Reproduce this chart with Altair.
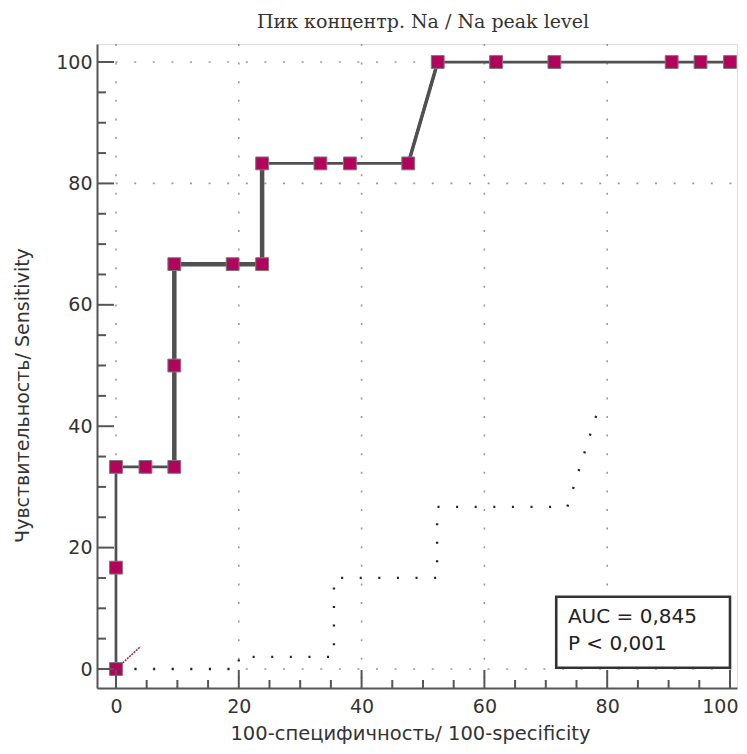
import altair as alt
import pandas as pd

# ---- data ----
fpr = [0, 0, 0, 4.8, 9.5, 9.5, 9.5, 19.0, 23.8, 23.8, 33.3, 38.1, 47.6, 52.4, 61.9, 71.4, 90.5, 95.2, 100]
sens = [0, 16.7, 33.3, 33.3, 33.3, 50.0, 66.7, 66.7, 66.7, 83.3, 83.3, 83.3, 83.3, 100, 100, 100, 100, 100, 100]

# heavier segments of the curve
thick_x = [9.5, 9.5, 23.8, 23.8]
thick_y = [33.3, 66.7, 66.7, 83.3]
diag_x = [47.6, 52.4]
diag_y = [83.3, 100]

# lower dotted confidence bound (partially drawn)
lo_x = [0, 20, 20, 35.5, 35.5, 52.3, 52.3, 73.5, 78.2]
lo_y = [0, 0, 2, 2, 15, 15, 26.7, 26.7, 41.7]

# short piece of the diagonal reference
ref_x = [0, 4]
ref_y = [0, 3.7]

grid_x = [0, 20, 40, 60, 80]
grid_y = [0, 80, 100]
major_ticks = [0, 20, 40, 60, 80, 100]
minor_ticks = [v for v in range(0, 101, 5) if v % 20 != 0]

auc_lines = ["AUC = 0,845", "P < 0,001"]
auc_x = [73.6, 73.6]
auc_y = [7.6, 3.1]
box = {"x": 71.7, "x2": 100, "y": 0.2, "y2": 11.9}

title = "Пик концентр. Na / Na peak level"
x_title = "100-специфичность/ 100-specificity"
y_title = "Чувствительность/ Sensitivity"

W, H = 640, 644
XS = alt.Scale(domain=[-3.09, 101.14], nice=False, zero=False)
YS = alt.Scale(domain=[-3.13, 102.97], nice=False, zero=False)
FONT = "DejaVu Sans"

X_AX = alt.Axis(values=major_ticks, format="d", grid=False, ticks=False, tickSize=0,
                labelFont=FONT, labelFontSize=19, labelColor="#333", labelPadding=9,
                labelFlush=10, labelFlushOffset=8,
                domainColor="#555", domainWidth=2,
                title=x_title, titleFont=FONT, titleFontSize=19.5, titleFontWeight="normal",
                titleColor="#333", titleX=313, titleY=45, titleAlign="center",
                titleBaseline="middle")
Y_AX = alt.Axis(values=major_ticks, format="d", grid=False, ticks=False, tickSize=0,
                labelFont=FONT, labelFontSize=19, labelColor="#333", labelPadding=5,
                domainColor="#555", domainWidth=2,
                title=y_title, titleFont=FONT, titleFontSize=19, titleFontWeight="normal",
                titleColor="#333", titleX=-75, titleY=351, titleAngle=270,
                titleAlign="center", titleBaseline="middle")


def X(f):
    return alt.X(f, type="quantitative", scale=XS, axis=X_AX)


def Y(f):
    return alt.Y(f, type="quantitative", scale=YS, axis=Y_AX)


roc = pd.DataFrame({"x": fpr, "y": sens, "i": range(len(fpr))})
thick = pd.DataFrame({"x": thick_x, "y": thick_y, "i": range(len(thick_x))})
diag = pd.DataFrame({"x": diag_x, "y": diag_y, "i": range(len(diag_x))})
lo = pd.DataFrame({"x": lo_x, "y": lo_y, "i": range(len(lo_x))})
ref = pd.DataFrame({"x": ref_x, "y": ref_y, "i": range(len(ref_x))})
gx = pd.DataFrame({"x": grid_x})
gy = pd.DataFrame({"y": grid_y})
tmaj = pd.DataFrame({"v": major_ticks})
tmin = pd.DataFrame({"v": minor_ticks})
auc = pd.DataFrame({"t": auc_lines, "x": auc_x, "y": auc_y})
boxdf = pd.DataFrame([box])

DOT = [2, 16.6]

grid_v = alt.Chart(gx).mark_rule(color="#999", strokeWidth=1.6, strokeDash=DOT).encode(
    x=X("x"), y=alt.value(0), y2=alt.value(H))
grid_h = alt.Chart(gy).mark_rule(color="#999", strokeWidth=1.6, strokeDash=DOT).encode(
    y=Y("y"), x=alt.value(0), x2=alt.value(W))

xt_maj = alt.Chart(tmaj).mark_rule(color="#555", strokeWidth=2).encode(
    x=X("v"), y=alt.value(H), y2=alt.value(H - 18))
xt_min = alt.Chart(tmin).mark_rule(color="#555", strokeWidth=2).encode(
    x=X("v"), y=alt.value(H), y2=alt.value(H - 8))
yt_maj = alt.Chart(tmaj).mark_rule(color="#555", strokeWidth=2).encode(
    y=Y("v"), x=alt.value(0), x2=alt.value(17))
yt_min = alt.Chart(tmin).mark_rule(color="#555", strokeWidth=2).encode(
    y=Y("v"), x=alt.value(0), x2=alt.value(9))

lower = alt.Chart(lo).mark_line(color="#222", strokeWidth=2.3, strokeDash=DOT).encode(
    x=X("x"), y=Y("y"), order="i:Q")
refl = alt.Chart(ref).mark_line(color="#8a3048", strokeWidth=1.6, strokeDash=[2, 1]).encode(
    x=X("x"), y=Y("y"), order="i:Q")

line = alt.Chart(roc).mark_line(color="#505050", strokeWidth=2.7).encode(
    x=X("x"), y=Y("y"), order="i:Q")
line_thick = alt.Chart(thick).mark_line(color="#505050", strokeWidth=4.5).encode(
    x=X("x"), y=Y("y"), order="i:Q")
line_diag = alt.Chart(diag).mark_line(color="#505050", strokeWidth=3.5).encode(
    x=X("x"), y=Y("y"), order="i:Q")
pts = alt.Chart(roc).mark_square(size=165, color="#b3045d", opacity=1,
                                 stroke="#7a7a7a", strokeWidth=1).encode(
    x=X("x"), y=Y("y"))

boxl = alt.Chart(boxdf).mark_rect(fill="white", stroke="#333", strokeWidth=2.6).encode(
    x=X("x"), x2="x2", y=Y("y"), y2="y2")
txt = alt.Chart(auc).mark_text(align="left", baseline="alphabetic", font=FONT,
                               fontSize=20, color="#222").encode(
    x=X("x"), y=Y("y"), text="t:N")

chart = alt.layer(
    grid_v, grid_h, lower, refl, line, line_thick, line_diag, pts,
    xt_maj, xt_min, yt_maj, yt_min, boxl, txt
).properties(
    width=W, height=H,
    title=alt.TitleParams(text=title, font="DejaVu Serif", fontSize=19, fontWeight="normal",
                          color="#333", anchor="middle", dx=6, offset=11),
    autosize=alt.AutoSizeParams(type="none"),
    padding={"left": 89, "top": 36, "right": 1, "bottom": 56},
).configure_view(stroke=None).configure(background="white")

chart.save("out.html", embed_options={"renderer": "svg", "actions": False})
